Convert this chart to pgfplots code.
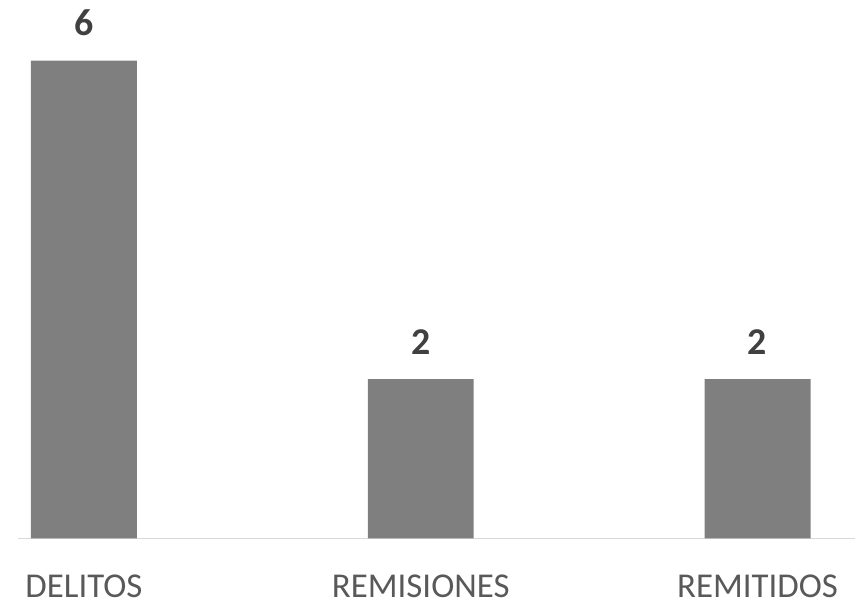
\documentclass[border=0pt]{standalone}
\usepackage{pgfplots}
\pgfplotsset{compat=1.18}
\usepackage{fontspec}
\setmainfont{Carlito}
\definecolor{barc}{HTML}{7F7F7F}
\definecolor{axc}{HTML}{D9D9D9}
\definecolor{tickc}{HTML}{595959}
\definecolor{valc}{HTML}{404040}
\begin{document}
\begin{tikzpicture}
\begin{axis}[
  x=337bp, y=79.67bp,
  xmin=-0.196, xmax=2.289,
  ymin=0, ymax=6.7,
  enlargelimits=false,
  axis y line=none,
  axis x line*=bottom,
  x axis line style={axc, line width=1.2bp},
  xtick={0,1,2},
  xticklabels={DELITOS,REMISIONES,REMITIDOS},
  major tick length=0pt,
  xticklabel style={anchor=base, yshift=-59bp, font=\fontsize{35}{42}\selectfont, text=tickc},
  clip=false,
  /pgf/number format/assume math mode=true,
  nodes near coords={\pgfmathprintnumber[assume math mode=true]{\pgfplotspointmeta}},
  every node near coord/.append style={anchor=base, yshift=25bp, inner sep=0pt, font=\fontsize{38}{44}\selectfont\bfseries, text=valc},
]
\addplot[ybar, bar width=106bp, fill=barc, draw=none] coordinates {(0,6) (1,2) (2,2)};
\coordinate (bl) at (axis cs:-0.2493,-0.878);
\coordinate (tr) at (axis cs:2.3012,6.763);
\end{axis}
\pgfresetboundingbox
\useasboundingbox (bl) rectangle (tr);
\end{tikzpicture}
\end{document}
